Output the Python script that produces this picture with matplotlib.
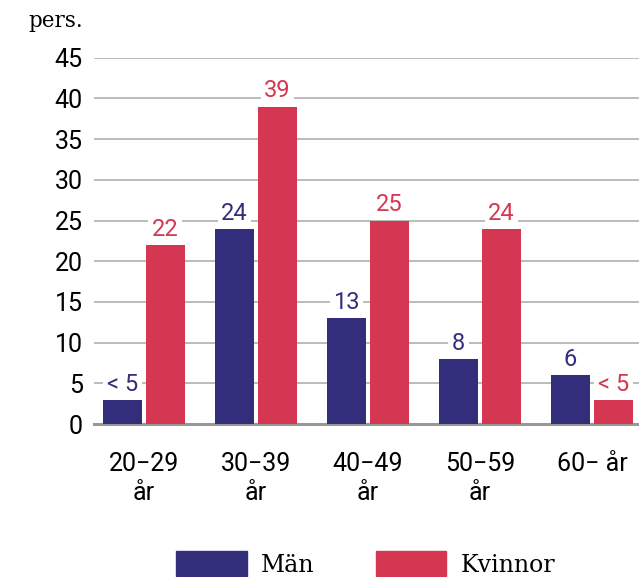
import numpy as np
import matplotlib.pyplot as plt
from matplotlib.patches import Patch

categories = ["20\u221229\når", "30\u221239\når", "40\u221249\når", "50\u221259\når", "60\u2212 år"]
man = [3, 24, 13, 8, 6]
kvinnor = [22, 39, 25, 24, 3]
man_labels = ["< 5", "24", "13", "8", "6"]
kvinnor_labels = ["22", "39", "25", "24", "< 5"]

navy = "#332e7c"
red = "#d53651"

plt.rcParams['font.family'] = ['Roboto', 'DejaVu Sans']

fig = plt.figure(figsize=(6.39, 5.77), dpi=100)
ax = fig.add_axes([0.147, 0.265, 0.853, 0.635])

x = np.arange(len(categories))
w = 0.348
off = 0.018 + w / 2
b1 = ax.bar(x - off, man, w, color=navy, zorder=3)
b2 = ax.bar(x + off, kvinnor, w, color=red, zorder=3)

for bars, labels, col in [(b1, man_labels, navy), (b2, kvinnor_labels, red)]:
    for rect, lab in zip(bars, labels):
        ax.annotate(lab, (rect.get_x() + rect.get_width() / 2, rect.get_height()),
                    xytext=(0, 3), textcoords="offset points", ha="center", va="bottom",
                    fontsize=17, color=col, zorder=4,
                    bbox=dict(boxstyle="square,pad=0.15", fc="white", ec="none"))

ax.set_ylim(0, 45)
ax.set_xlim(-0.446, 4.42)
ax.set_yticks(range(0, 46, 5))
ax.set_xticks(x)
ax.set_xticklabels(categories, fontsize=18, linespacing=1.25)
ax.tick_params(axis="y", labelsize=18, length=0, pad=8)
ax.tick_params(axis="x", length=0, pad=20)
ax.grid(axis="y", color="#b0b0b0", linewidth=1.2, zorder=0)
for s in ["top", "right", "left"]:
    ax.spines[s].set_visible(False)
ax.spines["bottom"].set_color("#999999")
ax.spines["bottom"].set_linewidth(2.2)

fig.text(0.044, 0.964, "pers.", fontsize=15.5, family="DejaVu Serif", va="center")

handles = [Patch(color=navy, label="Män"), Patch(color=red, label="Kvinnor")]
fig.legend(handles=handles, loc="lower center", bbox_to_anchor=(0.572, -0.036), ncol=2,
           frameon=False, prop={"family": "DejaVu Serif", "size": 17},
           handlelength=3.0, handleheight=1.2, handletextpad=0.6, columnspacing=2.6)

fig.savefig("out.png", dpi=100)
